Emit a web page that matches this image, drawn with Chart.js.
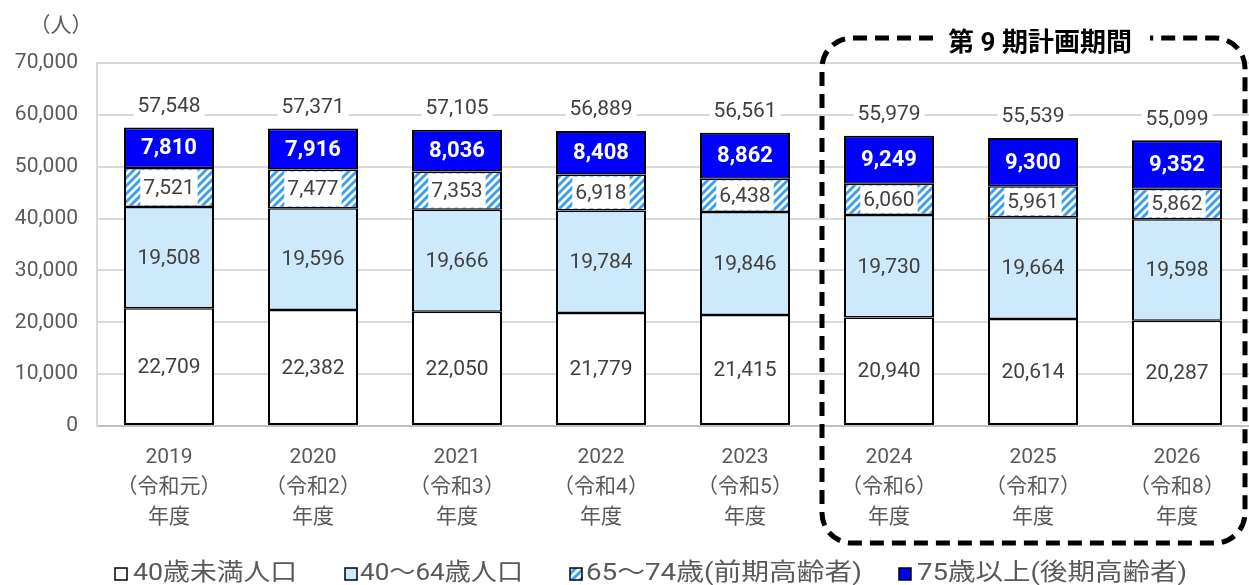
<!DOCTYPE html>
<html lang="ja">
<head>
<meta charset="utf-8">
<title>人口推計</title>
<script src="https://cdn.jsdelivr.net/npm/chart.js@4.4.1/dist/chart.umd.min.js"></script>
<style>
  html, body { margin: 0; padding: 0; background: #ffffff; }
  #grafico { display: block; }
</style>
</head>
<body>
<canvas id="grafico" width="1249" height="585"></canvas>
<script>
// Dados
const anos = [
    ['2019', '（令和元）', '年度'],
    ['2020', '（令和2）', '年度'],
    ['2021', '（令和3）', '年度'],
    ['2022', '（令和4）', '年度'],
    ['2023', '（令和5）', '年度'],
    ['2024', '（令和6）', '年度'],
    ['2025', '（令和7）', '年度'],
    ['2026', '（令和8）', '年度']
];
const menos40 = [22709, 22382, 22050, 21779, 21415, 20940, 20614, 20287];
const de40a64 = [19508, 19596, 19666, 19784, 19846, 19730, 19664, 19598];
const de65a74 = [7521, 7477, 7353, 6918, 6438, 6060, 5961, 5862];
const mais75 = [7810, 7916, 8036, 8408, 8862, 9249, 9300, 9352];
const totais = [57548, 57371, 57105, 56889, 56561, 55979, 55539, 55099];
const nomesSeries = ['40歳未満人口', '40～64歳人口', '65～74歳(前期高齢者)', '75歳以上(後期高齢者)'];
const ticksY = [0, 10000, 20000, 30000, 40000, 50000, 60000, 70000];

const fonteBase = 'Roboto, "Noto Sans CJK JP", sans-serif';
const corTexto = '#595959';

// Padrão listrado para a série 65~74
function criarHachura() {
    const c = document.createElement('canvas');
    c.width = 8;
    c.height = 8;
    const g = c.getContext('2d');
    g.fillStyle = '#ffffff';
    g.fillRect(0, 0, 8, 8);
    g.strokeStyle = '#3d9ef2';
    g.lineWidth = 3;
    g.beginPath();
    g.moveTo(-2, 10); g.lineTo(10, -2);
    g.moveTo(-6, 6); g.lineTo(6, -6);
    g.moveTo(2, 14); g.lineTo(14, 2);
    g.stroke();
    return document.getElementById('grafico').getContext('2d').createPattern(c, 'repeat');
}
const hachura = criarHachura();
const coresSeries = ['#ffffff', '#cdeafd', hachura, '#0000ff'];

const fmt = v => v.toLocaleString('en-US');

// Rótulos dos segmentos e totais
const pluginRotulos = {
    id: 'rotulos',
    afterDatasetsDraw(chart) {
        const ctx = chart.ctx;
        ctx.save();
        ctx.textAlign = 'center';
        ctx.textBaseline = 'middle';
        chart.data.datasets.forEach((ds, i) => {
            const meta = chart.getDatasetMeta(i);
            meta.data.forEach((barra, j) => {
                const yc = (barra.y + barra.base) / 2;
                const txt = fmt(ds.data[j]);
                if (i === 3) {
                    ctx.font = 'bold 22px ' + fonteBase;
                    ctx.fillStyle = '#ffffff';
                } else {
                    ctx.font = '21px ' + fonteBase;
                    ctx.fillStyle = '#404040';
                }
                if (i === 2) {
                    const w = ctx.measureText(txt).width + 6;
                    const h = Math.abs(barra.base - barra.y) - 4;
                    ctx.fillStyle = '#ffffff';
                    ctx.fillRect(barra.x - w / 2, yc - h / 2, w, h);
                    ctx.fillStyle = '#404040';
                }
                ctx.fillText(txt, barra.x, yc + 1);
            });
        });
        // totais acima das barras
        const topo = chart.getDatasetMeta(3);
        ctx.font = '21px ' + fonteBase;
        topo.data.forEach((barra, j) => {
            const txt = fmt(totais[j]);
            const y = barra.y - 22;
            const w = ctx.measureText(txt).width + 8;
            ctx.fillStyle = '#ffffff';
            ctx.fillRect(barra.x - w / 2, y - 13, w, 26);
            ctx.fillStyle = '#404040';
            ctx.fillText(txt, barra.x, y + 1);
        });
        ctx.restore();
    }
};

// Moldura tracejada, título, unidade e legenda
const pluginExtras = {
    id: 'extras',
    afterDraw(chart) {
        const ctx = chart.ctx;
        ctx.save();

        // unidade
        ctx.font = '21px ' + fonteBase;
        ctx.fillStyle = corTexto;
        ctx.textAlign = 'center';
        ctx.textBaseline = 'middle';
        ctx.fillText('（人）', 61, 27);

        // moldura do período do plano
        const x0 = 822, x1 = 1245, y0 = 38, y1 = 543, r = 30;
        ctx.strokeStyle = '#000000';
        ctx.lineWidth = 5;
        ctx.setLineDash([14, 8]);
        ctx.beginPath();
        ctx.moveTo(933, y0);
        ctx.lineTo(x0 + r, y0);
        ctx.arcTo(x0, y0, x0, y0 + r, r);
        ctx.lineTo(x0, y1 - r);
        ctx.arcTo(x0, y1, x0 + r, y1, r);
        ctx.lineTo(x1 - r, y1);
        ctx.arcTo(x1, y1, x1, y1 - r, r);
        ctx.lineTo(x1, y0 + r);
        ctx.arcTo(x1, y0, x1 - r, y0, r);
        ctx.lineTo(1150, y0);
        ctx.stroke();
        ctx.setLineDash([]);

        ctx.font = 'bold 26px ' + fonteBase;
        ctx.fillStyle = '#000000';
        ctx.fillText('第 9 期計画期間', 1040, 44);

        // legenda
        const itens = [
            { caixa: 115, x: 133, largura: 164 },
            { caixa: 345, x: 360, largura: 163 },
            { caixa: 570, x: 586, largura: 276 },
            { caixa: 899, x: 917, largura: 270 }
        ];
        ctx.font = '24px ' + fonteBase;
        ctx.textAlign = 'left';
        itens.forEach((it, i) => {
            ctx.fillStyle = coresSeries[i];
            ctx.fillRect(it.caixa, 568, 12, 12);
            ctx.strokeStyle = '#000000';
            ctx.lineWidth = 1.5;
            ctx.strokeRect(it.caixa, 568, 12, 12);
            const natural = ctx.measureText(nomesSeries[i]).width;
            ctx.save();
            ctx.translate(it.x, 574);
            ctx.scale(it.largura / natural, 1);
            ctx.fillStyle = corTexto;
            ctx.fillText(nomesSeries[i], 0, 0);
            ctx.restore();
        });
        ctx.restore();
    }
};

const bordas = [
    { left: 2, right: 2, top: 1.5, bottom: 2 },
    { left: 2, right: 2, top: 1.5, bottom: 1.5 },
    { left: 2, right: 2, top: 1.5, bottom: 1.5 },
    { left: 2, right: 2, top: 2, bottom: 1.5 }
];
const seriesValores = [menos40, de40a64, de65a74, mais75];

new Chart(document.getElementById('grafico'), {
    type: 'bar',
    data: {
        labels: anos,
        datasets: seriesValores.map((valores, i) => ({
            label: nomesSeries[i],
            data: valores,
            backgroundColor: coresSeries[i],
            borderColor: '#000000',
            borderWidth: bordas[i],
            borderSkipped: false,
            categoryPercentage: 1,
            barPercentage: 0.625
        }))
    },
    options: {
        responsive: false,
        animation: false,
        devicePixelRatio: 1,
        layout: { padding: { top: 63, right: 0, bottom: 0, left: 0 } },
        plugins: {
            legend: { display: false },
            tooltip: { enabled: false }
        },
        scales: {
            x: {
                stacked: true,
                grid: { display: false, drawTicks: false },
                border: { display: true, color: '#bfbfbf', width: 2 },
                ticks: {
                    color: corTexto,
                    font: { family: fonteBase, size: 21, lineHeight: 1.43 },
                    padding: 17,
                    maxRotation: 0,
                    autoSkip: false
                },
                afterFit(escala) { escala.height = 159; }
            },
            y: {
                stacked: true,
                min: 0,
                max: 70000,
                afterBuildTicks(escala) { escala.ticks = ticksY.map(v => ({ value: v })); },
                grid: { color: '#d9d9d9', lineWidth: 2, drawTicks: false },
                border: { display: true, color: '#d9d9d9', width: 2 },
                ticks: {
                    color: corTexto,
                    font: { family: fonteBase, size: 21 },
                    padding: 19,
                    callback: v => fmt(v)
                },
                afterFit(escala) { escala.width = 97; }
            }
        }
    },
    plugins: [pluginRotulos, pluginExtras]
});
</script>
</body>
</html>
